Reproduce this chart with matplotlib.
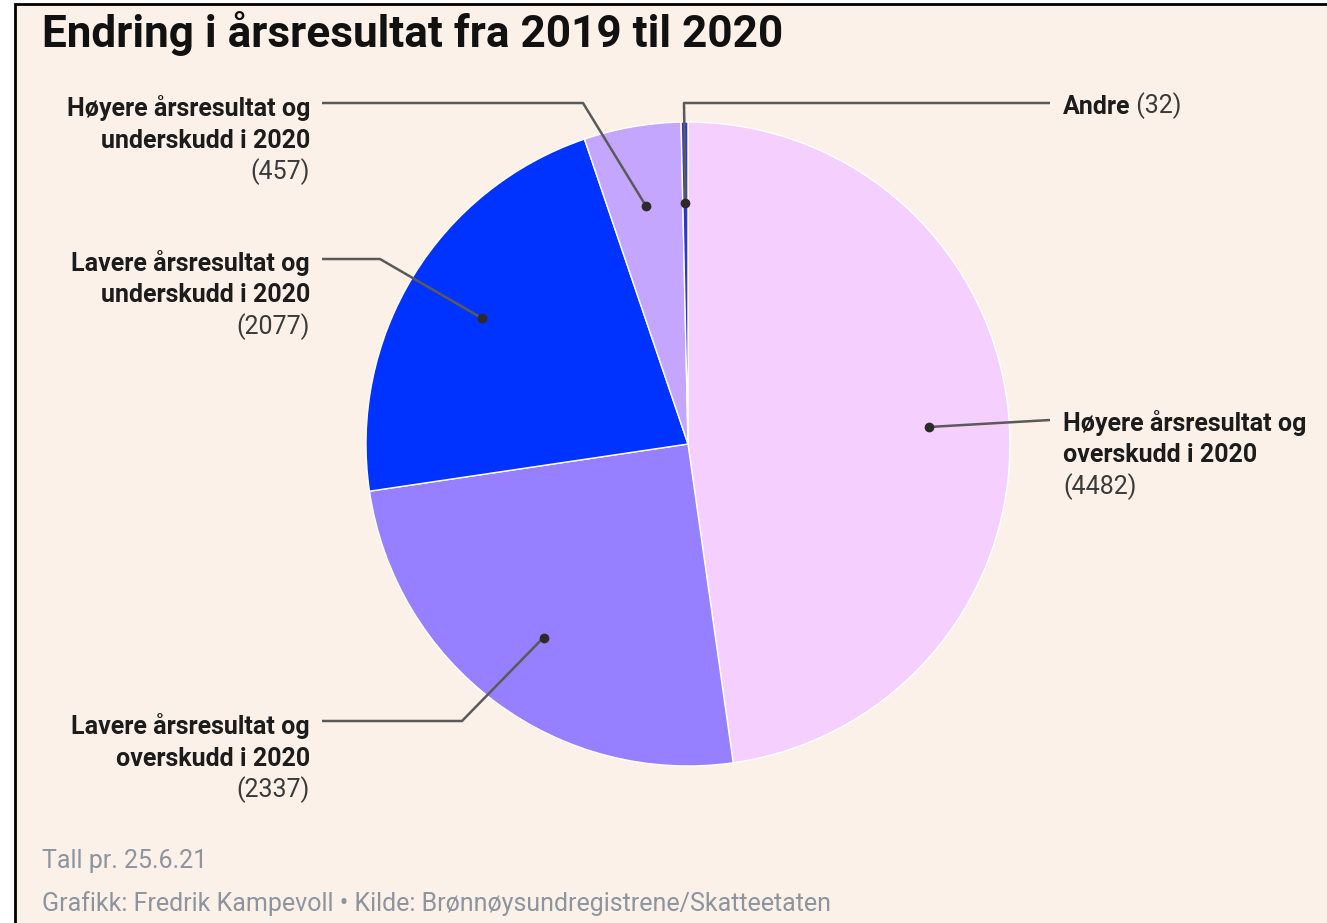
import matplotlib.pyplot as plt
import numpy as np
from matplotlib.patches import Rectangle

title = "Endring i årsresultat fra 2019 til 2020"
labels = ["Høyere årsresultat og\noverskudd i 2020",
          "Lavere årsresultat og\noverskudd i 2020",
          "Lavere årsresultat og\nunderskudd i 2020",
          "Høyere årsresultat og\nunderskudd i 2020",
          "Andre"]
counts = [4482, 2337, 2077, 457, 32]
colors = ["#F5D0FE", "#9780FF", "#0033FF", "#C4A6FF", "#2A3AC8"]
note = "Tall pr. 25.6.21"
source = "Grafikk: Fredrik Kampevoll • Kilde: Brønnøysundregistrene/Skatteetaten"

W, H = 1327, 923
FONT = "Roboto"
BG = "#FBF1E8"
FS = 18

fig = plt.figure(figsize=(W / 100, H / 100), dpi=100, facecolor="white")
ax = fig.add_axes([0, 0, 1, 1])

# frame: black line on left and top, cream inside
ax.add_patch(Rectangle((15, -10), W, H - 4 + 10, facecolor=BG, edgecolor="black", lw=2, zorder=0))

cx, cy, r = 688, H - 444, 322
wedges, _ = ax.pie(counts, colors=colors, startangle=90, counterclock=False,
                   center=(cx, cy), radius=r, frame=True,
                   wedgeprops=dict(edgecolor="white", linewidth=1))
ax.set_aspect("auto")
ax.set_xlim(0, W)
ax.set_ylim(0, H)
ax.axis("off")

# leader layout: elbow points (pixels from top), text x, alignment, first baseline
layout = [
    dict(path=[(1050, 420)], tx=1063, ha="left", base=431),
    dict(path=[(462, 721), (322, 721)], tx=310, ha="right", base=734),
    dict(path=[(380, 259), (322, 259)], tx=310, ha="right", base=271),
    dict(path=[(583, 103), (322, 103)], tx=310, ha="right", base=116),
    dict(path=[(684, 103), (1050, 103)], tx=1063, ha="left", base=114),
]

LS = 31.5
for w, lab, n, lay in zip(wedges, labels, counts, layout):
    mid = np.deg2rad((w.theta1 + w.theta2) / 2)
    dx, dy = cx + 0.75 * r * np.cos(mid), cy + 0.75 * r * np.sin(mid)
    xs = [dx] + [p[0] for p in lay["path"]]
    ys = [dy] + [H - p[1] for p in lay["path"]]
    ax.plot(xs, ys, color="#5a5a5a", lw=1.8, zorder=3, solid_capstyle="butt")
    ax.plot(dx, dy, "o", color="#2b2b2b", ms=6, zorder=4)

    lines = lab.split("\n")
    y = lay["base"]
    if len(lines) == 1:
        t = ax.text(lay["tx"], H - y, lines[0], ha=lay["ha"], va="baseline",
                    fontsize=FS, fontweight="bold", family=FONT, color="#1c1c1c")
        ax.annotate(f" ({n})", xy=(1, 0), xycoords=t, va="bottom", ha="left",
                    fontsize=FS, family=FONT, color="#3a3a3a")
        continue
    for ln in lines:
        ax.text(lay["tx"], H - y, ln, ha=lay["ha"], va="baseline",
                fontsize=FS, fontweight="bold", family=FONT, color="#1c1c1c")
        y += LS
    ax.text(lay["tx"], H - y, f"({n})", ha=lay["ha"], va="baseline",
            fontsize=FS, family=FONT, color="#3a3a3a")

ax.text(42, H - 47, title, ha="left", va="baseline", fontsize=31.8,
        fontweight="bold", family=FONT, color="#111111")
ax.text(42, H - 868, note, ha="left", va="baseline", fontsize=18,
        family=FONT, color="#8d949e")
ax.text(42, H - 911, source, ha="left", va="baseline", fontsize=18,
        family=FONT, color="#8d949e")

fig.savefig("out.png", dpi=100, facecolor="white")
